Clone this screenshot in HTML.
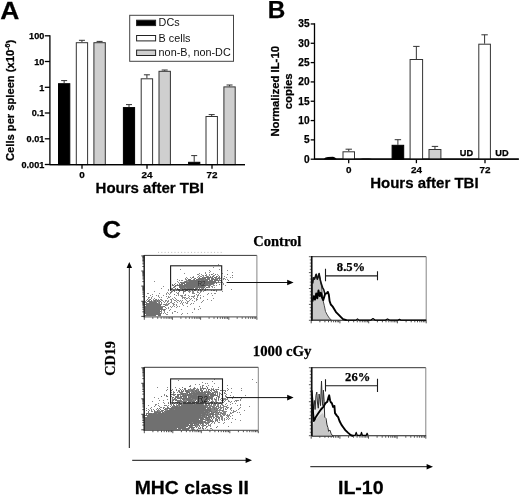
<!DOCTYPE html>
<html><head><meta charset="utf-8"><title>Figure</title>
<style>
html,body{margin:0;padding:0;background:#fff;}
body{width:520px;height:497px;overflow:hidden;font-family:"Liberation Sans", sans-serif;}
svg{display:block;will-change:transform;filter:grayscale(1) blur(0.35px);}
.s{font-family:"Liberation Sans", sans-serif;}
.r{font-family:"Liberation Serif", serif;}
</style></head><body>
<svg width="520" height="497" viewBox="0 0 520 497">
<rect width="520" height="497" fill="#fff"/>
<text class="s" transform="translate(0.3,18.8) scale(1.09,1)" font-size="24.3" font-weight="bold" text-anchor="start" fill="#000" stroke="#000" stroke-width="0.25">A</text>
<path d="M49.9 35.2V164.6H245" stroke="#000" stroke-width="1.3" fill="none"/>
<path d="M44.8 35.8H49.9" stroke="#000" stroke-width="1.3"/>
<text class="s" transform="translate(44.3,39.0) scale(1.0,1)" font-size="9.1" font-weight="bold" text-anchor="end" fill="#000" stroke="#000" stroke-width="0.25">100</text>
<path d="M44.8 61.5H49.9" stroke="#000" stroke-width="1.3"/>
<text class="s" transform="translate(44.3,64.7) scale(1.0,1)" font-size="9.1" font-weight="bold" text-anchor="end" fill="#000" stroke="#000" stroke-width="0.25">10</text>
<path d="M44.8 87.3H49.9" stroke="#000" stroke-width="1.3"/>
<text class="s" transform="translate(44.3,90.5) scale(1.0,1)" font-size="9.1" font-weight="bold" text-anchor="end" fill="#000" stroke="#000" stroke-width="0.25">1</text>
<path d="M44.8 113.0H49.9" stroke="#000" stroke-width="1.3"/>
<text class="s" transform="translate(44.3,116.2) scale(1.0,1)" font-size="9.1" font-weight="bold" text-anchor="end" fill="#000" stroke="#000" stroke-width="0.25">0.1</text>
<path d="M44.8 138.8H49.9" stroke="#000" stroke-width="1.3"/>
<text class="s" transform="translate(44.3,142.0) scale(1.0,1)" font-size="9.1" font-weight="bold" text-anchor="end" fill="#000" stroke="#000" stroke-width="0.25">0.01</text>
<path d="M44.8 164.5H49.9" stroke="#000" stroke-width="1.3"/>
<text class="s" transform="translate(44.3,167.7) scale(1.0,1)" font-size="9.1" font-weight="bold" text-anchor="end" fill="#000" stroke="#000" stroke-width="0.25">0.001</text>
<path d="M82 164.6V168.7" stroke="#000" stroke-width="1.3"/>
<text class="s" transform="translate(82,177.9) scale(1.0,1)" font-size="9.9" font-weight="bold" text-anchor="middle" fill="#000" stroke="#000" stroke-width="0.25">0</text>
<path d="M147 164.6V168.7" stroke="#000" stroke-width="1.3"/>
<text class="s" transform="translate(147,177.9) scale(1.0,1)" font-size="9.9" font-weight="bold" text-anchor="middle" fill="#000" stroke="#000" stroke-width="0.25">24</text>
<path d="M212 164.6V168.7" stroke="#000" stroke-width="1.3"/>
<text class="s" transform="translate(212,177.9) scale(1.0,1)" font-size="9.9" font-weight="bold" text-anchor="middle" fill="#000" stroke="#000" stroke-width="0.25">72</text>
<text class="s" transform="translate(149.8,192.6) scale(1.05,1)" font-size="14.3" font-weight="bold" text-anchor="middle" fill="#000" stroke="#000" stroke-width="0.25">Hours after TBI</text>
<g transform="translate(13.6,100.4) rotate(-90) scale(1.095,1)">
<text class="s" x="0" y="0" font-size="10.2" font-weight="bold" text-anchor="middle" stroke="#000" stroke-width="0.25">Cells per spleen (x10<tspan font-size="6.5" dy="-4">-6</tspan><tspan dy="4">)</tspan></text>
</g>
<path d="M64.15 83.20V80.60M61.15 80.60H67.15" stroke="#333" stroke-width="1" fill="none"/>
<rect x="58.50" y="83.70" width="11.30" height="80.90" fill="#000" stroke="#000" stroke-width="1"/>
<path d="M81.95 42.20V40.30M78.95 40.30H84.95" stroke="#333" stroke-width="1" fill="none"/>
<rect x="76.30" y="42.70" width="11.30" height="121.90" fill="#fff" stroke="#333" stroke-width="1"/>
<path d="M99.60 42.20V41.40M96.60 41.40H102.60" stroke="#333" stroke-width="1" fill="none"/>
<rect x="93.90" y="42.70" width="11.40" height="121.90" fill="#cfcfcf" stroke="#333" stroke-width="1"/>
<path d="M129.00 107.10V104.60M126.00 104.60H132.00" stroke="#333" stroke-width="1" fill="none"/>
<rect x="123.40" y="107.60" width="11.20" height="57.00" fill="#000" stroke="#000" stroke-width="1"/>
<path d="M146.90 78.30V74.80M143.90 74.80H149.90" stroke="#333" stroke-width="1" fill="none"/>
<rect x="141.20" y="78.80" width="11.40" height="85.80" fill="#fff" stroke="#333" stroke-width="1"/>
<path d="M164.70 70.80V70.00M161.70 70.00H167.70" stroke="#333" stroke-width="1" fill="none"/>
<rect x="159.00" y="71.30" width="11.40" height="93.30" fill="#cfcfcf" stroke="#333" stroke-width="1"/>
<path d="M194.20 161.80V155.60M191.20 155.60H197.20" stroke="#333" stroke-width="1" fill="none"/>
<rect x="188.60" y="162.30" width="11.20" height="2.30" fill="#000" stroke="#000" stroke-width="1"/>
<path d="M211.70 116.00V114.60M208.70 114.60H214.70" stroke="#333" stroke-width="1" fill="none"/>
<rect x="206.00" y="116.50" width="11.40" height="48.10" fill="#fff" stroke="#333" stroke-width="1"/>
<path d="M229.55 86.40V85.00M226.55 85.00H232.55" stroke="#333" stroke-width="1" fill="none"/>
<rect x="223.90" y="86.90" width="11.30" height="77.70" fill="#cfcfcf" stroke="#333" stroke-width="1"/>
<path d="M49.9 164.6H245" stroke="#000" stroke-width="1.4" fill="none"/>
<rect x="129.7" y="15.3" width="103.8" height="46" fill="#fff" stroke="#444" stroke-width="1"/>
<rect x="136.6" y="20.2" width="19" height="5.4" fill="#000" stroke="#222" stroke-width="1"/>
<rect x="136.6" y="35.5" width="19" height="5.4" fill="#fff" stroke="#222" stroke-width="1"/>
<rect x="136.6" y="50.1" width="19" height="5.4" fill="#cfcfcf" stroke="#222" stroke-width="1"/>
<text class="s" transform="translate(158.6,26.0) scale(1.04,1)" font-size="10.4" font-weight="normal" text-anchor="start" fill="#111" >DCs</text>
<text class="s" transform="translate(158.6,41.6) scale(1.04,1)" font-size="10.4" font-weight="normal" text-anchor="start" fill="#111" >B cells</text>
<text class="s" transform="translate(158.6,56.2) scale(1.04,1)" font-size="10.4" font-weight="normal" text-anchor="start" fill="#111" >non-B, non-DC</text>
<text class="s" transform="translate(267.8,18.3) scale(1.0,1)" font-size="24.3" font-weight="bold" text-anchor="start" fill="#000" stroke="#000" stroke-width="0.25">B</text>
<path d="M314.5 23.2V159.2H518.8" stroke="#000" stroke-width="1.3" fill="none"/>
<path d="M310.7 159.20H314.5" stroke="#000" stroke-width="1.3"/>
<text class="s" transform="translate(309.5,162.6) scale(1.0,1)" font-size="10.1" font-weight="bold" text-anchor="end" fill="#000" stroke="#000" stroke-width="0.25">0</text>
<path d="M310.7 139.88H314.5" stroke="#000" stroke-width="1.3"/>
<text class="s" transform="translate(309.5,143.28) scale(1.0,1)" font-size="10.1" font-weight="bold" text-anchor="end" fill="#000" stroke="#000" stroke-width="0.25">5</text>
<path d="M310.7 120.56H314.5" stroke="#000" stroke-width="1.3"/>
<text class="s" transform="translate(309.5,123.96) scale(1.0,1)" font-size="10.1" font-weight="bold" text-anchor="end" fill="#000" stroke="#000" stroke-width="0.25">10</text>
<path d="M310.7 101.24H314.5" stroke="#000" stroke-width="1.3"/>
<text class="s" transform="translate(309.5,104.63999999999999) scale(1.0,1)" font-size="10.1" font-weight="bold" text-anchor="end" fill="#000" stroke="#000" stroke-width="0.25">15</text>
<path d="M310.7 81.92H314.5" stroke="#000" stroke-width="1.3"/>
<text class="s" transform="translate(309.5,85.32) scale(1.0,1)" font-size="10.1" font-weight="bold" text-anchor="end" fill="#000" stroke="#000" stroke-width="0.25">20</text>
<path d="M310.7 62.60H314.5" stroke="#000" stroke-width="1.3"/>
<text class="s" transform="translate(309.5,66.0) scale(1.0,1)" font-size="10.1" font-weight="bold" text-anchor="end" fill="#000" stroke="#000" stroke-width="0.25">25</text>
<path d="M310.7 43.28H314.5" stroke="#000" stroke-width="1.3"/>
<text class="s" transform="translate(309.5,46.679999999999986) scale(1.0,1)" font-size="10.1" font-weight="bold" text-anchor="end" fill="#000" stroke="#000" stroke-width="0.25">30</text>
<path d="M310.7 23.96H314.5" stroke="#000" stroke-width="1.3"/>
<text class="s" transform="translate(309.5,27.359999999999978) scale(1.0,1)" font-size="10.1" font-weight="bold" text-anchor="end" fill="#000" stroke="#000" stroke-width="0.25">35</text>
<path d="M348.7 159.2V163.2" stroke="#000" stroke-width="1.3"/>
<text class="s" transform="translate(348.7,173.0) scale(1.0,1)" font-size="9.9" font-weight="bold" text-anchor="middle" fill="#000" stroke="#000" stroke-width="0.25">0</text>
<path d="M416.4 159.2V163.2" stroke="#000" stroke-width="1.3"/>
<text class="s" transform="translate(416.4,173.0) scale(1.0,1)" font-size="9.9" font-weight="bold" text-anchor="middle" fill="#000" stroke="#000" stroke-width="0.25">24</text>
<path d="M485 159.2V163.2" stroke="#000" stroke-width="1.3"/>
<text class="s" transform="translate(485,173.0) scale(1.0,1)" font-size="9.9" font-weight="bold" text-anchor="middle" fill="#000" stroke="#000" stroke-width="0.25">72</text>
<text class="s" transform="translate(424.4,187.8) scale(1.05,1)" font-size="14.3" font-weight="bold" text-anchor="middle" fill="#000" stroke="#000" stroke-width="0.25">Hours after TBI</text>
<g transform="translate(278.9,91.3) rotate(-90) scale(1.09,1)"><text class="s" x="0" y="0" font-size="10.4" font-weight="bold" text-anchor="middle" stroke="#000" stroke-width="0.25">Normalized IL-10</text><text class="s" x="0" y="12.9" font-size="10.4" font-weight="bold" text-anchor="middle" stroke="#000" stroke-width="0.25">copies</text></g>
<path d="M348.75 151.30V149.20M345.55 149.20H351.95" stroke="#333" stroke-width="1" fill="none"/>
<rect x="343.00" y="151.80" width="11.50" height="7.40" fill="#fff" stroke="#333" stroke-width="1"/>
<path d="M397.90 144.80V139.70M394.70 139.70H401.10" stroke="#333" stroke-width="1" fill="none"/>
<rect x="392.10" y="145.30" width="11.60" height="13.90" fill="#000" stroke="#000" stroke-width="1"/>
<path d="M416.35 59.00V46.40M413.15 46.40H419.55" stroke="#333" stroke-width="1" fill="none"/>
<rect x="410.10" y="59.50" width="12.50" height="99.70" fill="#fff" stroke="#333" stroke-width="1"/>
<path d="M434.95 149.00V146.40M431.75 146.40H438.15" stroke="#333" stroke-width="1" fill="none"/>
<rect x="429.00" y="149.50" width="11.90" height="9.70" fill="#cfcfcf" stroke="#333" stroke-width="1"/>
<path d="M484.60 43.70V34.80M481.40 34.80H487.80" stroke="#333" stroke-width="1" fill="none"/>
<rect x="478.80" y="44.20" width="11.60" height="115.00" fill="#fff" stroke="#333" stroke-width="1"/>
<path d="M323.5 159.2 L325.5 157.6 L328 156.9 L333 156.8 L335 157.5 L336.8 159.2Z" fill="#000"/>
<path d="M360 159 L363 158.2 L369 158.2 L372 159Z" fill="#333"/>
<path d="M314.5 159.2H518.8" stroke="#000" stroke-width="1.25" fill="none"/>
<text class="s" transform="translate(466.4,156.4) scale(1.0,1)" font-size="9.2" font-weight="bold" text-anchor="middle" fill="#000" stroke="#000" stroke-width="0.25">UD</text>
<text class="s" transform="translate(501.9,156.4) scale(1.0,1)" font-size="9.2" font-weight="bold" text-anchor="middle" fill="#000" stroke="#000" stroke-width="0.25">UD</text>
<text class="s" transform="translate(102.2,238) scale(1.07,1)" font-size="24.3" font-weight="bold" text-anchor="start" fill="#000" stroke="#000" stroke-width="0.25">C</text>
<text class="r" transform="translate(277.3,245.8) scale(1.0,1)" font-size="14.5" font-weight="bold" text-anchor="middle" fill="#000" stroke="#000" stroke-width="0.25">Control</text>
<text class="r" transform="translate(282.1,355.7) scale(1.02,1)" font-size="14.5" font-weight="bold" text-anchor="middle" fill="#000" stroke="#000" stroke-width="0.25">1000 cGy</text>
<g transform="translate(115.1,358.5) rotate(-90)"><text class="r" x="0" y="0" font-size="14.2" font-weight="bold" text-anchor="middle" stroke="#000" stroke-width="0.25">CD19</text></g>
<text class="s" transform="translate(191.8,493.6) scale(1.02,1)" font-size="19" font-weight="bold" text-anchor="middle" fill="#000" stroke="#000" stroke-width="0.25">MHC class II</text>
<text class="s" transform="translate(360.8,493.6) scale(1.03,1)" font-size="19" font-weight="bold" text-anchor="middle" fill="#000" stroke="#000" stroke-width="0.25">IL-10</text>
<path d="M129.3 448V267.0" stroke="#111" stroke-width="1"/>
<path d="M129.3 262L126.60000000000001 268.0L132.0 268.0Z" fill="#000"/>
<path d="M132.2 460.3H246.6" stroke="#111" stroke-width="1"/>
<path d="M252 460.3L245.6 457.5L245.6 463.1Z" fill="#000"/>
<path d="M310.3 466.7H427.6" stroke="#111" stroke-width="1"/>
<path d="M433 466.7L426.6 463.9L426.6 469.5Z" fill="#000"/>
<rect x="144.3" y="255.4" width="112.59999999999997" height="61.49999999999997" fill="#fff"/>
<path d="M144.3 255.4H256.9" stroke="#3a3a3a" stroke-width="1"/>
<path d="M256.9 255.4V316.9" stroke="#777" stroke-width="0.9"/>
<path d="M143.9 316.9H256.9" stroke="#444" stroke-width="1"/>
<path d="M144.20000000000002 255.0V317.29999999999995" stroke="#222" stroke-width="1.5"/>
<path d="M144.0 316.4h-2.7M144.0 311.8h-1.6M144.0 309.2h-1.6M144.0 307.3h-1.6M144.0 305.8h-1.6M144.0 304.6h-1.6M144.0 303.6h-1.6M144.0 302.7h-1.6M144.0 302.0h-1.6M144.0 301.3h-2.7M144.0 296.7h-1.6M144.0 294.1h-1.6M144.0 292.2h-1.6M144.0 290.7h-1.6M144.0 289.5h-1.6M144.0 288.5h-1.6M144.0 287.6h-1.6M144.0 286.8h-1.6M144.0 286.1h-2.7M144.0 281.6h-1.6M144.0 278.9h-1.6M144.0 277.0h-1.6M144.0 275.6h-1.6M144.0 274.4h-1.6M144.0 273.4h-1.6M144.0 272.5h-1.6M144.0 271.7h-1.6M144.0 271.0h-2.7M144.0 266.5h-1.6M144.0 263.8h-1.6M144.0 261.9h-1.6M144.0 260.5h-1.6M144.0 259.3h-1.6M144.0 258.2h-1.6M144.0 257.4h-1.6M144.0 256.6h-1.6M144.0 255.9h-2.7" stroke="#2a2a2a" stroke-width="0.9" fill="none"/>
<path d="M144.3 317.2v2.6M152.8 317.2v1.6M157.7 317.2v1.6M161.2 317.2v1.6M164.0 317.2v1.6M166.2 317.2v1.6M168.1 317.2v1.6M169.7 317.2v1.6M171.2 317.2v1.6M172.4 317.2v2.6M180.9 317.2v1.6M185.9 317.2v1.6M189.4 317.2v1.6M192.1 317.2v1.6M194.4 317.2v1.6M196.2 317.2v1.6M197.9 317.2v1.6M199.3 317.2v1.6M200.6 317.2v2.6M209.1 317.2v1.6M214.0 317.2v1.6M217.5 317.2v1.6M220.3 317.2v1.6M222.5 317.2v1.6M224.4 317.2v1.6M226.0 317.2v1.6M227.5 317.2v1.6M228.8 317.2v2.6M237.2 317.2v1.6M242.2 317.2v1.6M245.7 317.2v1.6M248.4 317.2v1.6M250.7 317.2v1.6M252.5 317.2v1.6M254.2 317.2v1.6M255.6 317.2v1.6M256.9 317.2v2.6" stroke="#2a2a2a" stroke-width="0.8" fill="none"/>
<path d="M218 264.5h1M213 267.5h1M180 269.5h1M219 269.5h1M209 270.5h1M221 270.5h1M227 270.5h1M210 271.5h1M205 272.5h1M209 272.5h1M232 272.5h1M184 273.5h1M199 273.5h1M205 273.5h1M213 273.5h1M222 273.5h1M197 274.5h2M201 274.5h1M206 274.5h1M209 274.5h1M211 274.5h2M217 274.5h1M227 274.5h1M199 275.5h1M202 275.5h2M206 275.5h1M209 275.5h1M213 275.5h2M218 275.5h1M193 276.5h1M198 276.5h1M200 276.5h2M203 276.5h1M206 276.5h1M208 276.5h1M210 276.5h1M216 276.5h2M224 276.5h1M186 277.5h1M190 277.5h1M192 277.5h1M197 277.5h1M203 277.5h4M208 277.5h1M211 277.5h2M218 277.5h2M226 277.5h1M230 277.5h1M232 277.5h1M185 278.5h1M187 278.5h1M191 278.5h1M194 278.5h1M200 278.5h4M208 278.5h2M211 278.5h2M216 278.5h1M218 278.5h3M223 278.5h2M177 279.5h1M185 279.5h2M193 279.5h2M196 279.5h2M200 279.5h5M209 279.5h1M211 279.5h6M219 279.5h1M223 279.5h1M225 279.5h1M227 279.5h1M179 280.5h1M181 280.5h2M186 280.5h2M192 280.5h3M196 280.5h6M205 280.5h3M209 280.5h2M212 280.5h1M214 280.5h1M216 280.5h2M219 280.5h3M154 281.5h1M177 281.5h1M184 281.5h2M187 281.5h4M192 281.5h13M206 281.5h1M208 281.5h3M212 281.5h2M215 281.5h1M178 282.5h1M181 282.5h2M184 282.5h3M188 282.5h3M192 282.5h3M197 282.5h4M202 282.5h6M209 282.5h1M211 282.5h2M217 282.5h1M219 282.5h4M175 283.5h1M179 283.5h1M181 283.5h2M186 283.5h1M190 283.5h1M193 283.5h1M195 283.5h3M199 283.5h3M203 283.5h2M207 283.5h2M210 283.5h1M212 283.5h1M214 283.5h1M223 283.5h1M177 284.5h1M189 284.5h6M196 284.5h1M198 284.5h5M206 284.5h4M212 284.5h2M221 284.5h1M223 284.5h1M176 285.5h2M179 285.5h3M185 285.5h2M189 285.5h1M192 285.5h4M197 285.5h6M204 285.5h1M206 285.5h3M210 285.5h1M213 285.5h2M216 285.5h1M225 285.5h1M163 286.5h1M179 286.5h1M182 286.5h1M184 286.5h2M188 286.5h1M193 286.5h2M198 286.5h2M204 286.5h2M208 286.5h1M211 286.5h2M174 287.5h1M182 287.5h1M185 287.5h2M188 287.5h1M190 287.5h2M193 287.5h4M198 287.5h2M203 287.5h2M208 287.5h1M212 287.5h1M214 287.5h1M161 288.5h1M171 288.5h1M182 288.5h5M189 288.5h5M195 288.5h1M199 288.5h1M201 288.5h2M205 288.5h1M168 289.5h1M171 289.5h1M179 289.5h1M183 289.5h2M186 289.5h2M192 289.5h2M200 289.5h1M202 289.5h1M205 289.5h1M207 289.5h1M231 289.5h1M168 290.5h1M173 290.5h2M176 290.5h1M178 290.5h1M180 290.5h2M183 290.5h1M185 290.5h1M189 290.5h1M192 290.5h1M195 290.5h1M200 290.5h2M204 290.5h2M211 290.5h1M213 290.5h2M216 290.5h1M154 291.5h1M172 291.5h1M183 291.5h1M185 291.5h1M188 291.5h3M192 291.5h2M197 291.5h1M200 291.5h2M203 291.5h1M216 291.5h1M222 291.5h1M167 292.5h1M171 292.5h1M176 292.5h1M178 292.5h1M183 292.5h1M189 292.5h1M192 292.5h2M197 292.5h2M200 292.5h1M147 293.5h2M159 293.5h1M166 293.5h1M168 293.5h1M170 293.5h1M177 293.5h2M183 293.5h1M192 293.5h3M199 293.5h1M208 293.5h1M211 293.5h1M214 293.5h2M152 294.5h1M166 294.5h1M169 294.5h1M174 294.5h1M178 294.5h1M185 294.5h1M196 294.5h1M198 294.5h1M207 294.5h1M150 295.5h1M156 295.5h1M158 295.5h1M163 295.5h1M176 295.5h1M178 295.5h1M180 295.5h3M184 295.5h2M188 295.5h1M194 295.5h1M197 295.5h2M200 295.5h1M212 295.5h1M146 296.5h1M152 296.5h1M158 296.5h1M166 296.5h1M168 296.5h1M170 296.5h1M181 296.5h2M189 296.5h1M191 296.5h4M197 296.5h1M203 296.5h1M148 297.5h2M151 297.5h1M159 297.5h1M161 297.5h1M168 297.5h2M174 297.5h1M182 297.5h4M188 297.5h1M193 297.5h1M197 297.5h1M200 297.5h1M148 298.5h1M151 298.5h1M154 298.5h1M167 298.5h1M172 298.5h1M175 298.5h1M182 298.5h1M184 298.5h1M186 298.5h2M189 298.5h1M191 298.5h1M194 298.5h1M196 298.5h1M200 298.5h1M213 298.5h1M149 299.5h1M153 299.5h1M155 299.5h1M158 299.5h1M160 299.5h2M170 299.5h2M173 299.5h1M176 299.5h1M185 299.5h1M190 299.5h1M196 299.5h2M207 299.5h1M146 300.5h1M149 300.5h1M153 300.5h2M156 300.5h1M158 300.5h1M161 300.5h2M165 300.5h2M168 300.5h1M171 300.5h1M174 300.5h2M177 300.5h2M180 300.5h1M182 300.5h1M186 300.5h1M189 300.5h1M192 300.5h1M196 300.5h1M203 300.5h1M211 300.5h1M145 301.5h1M150 301.5h1M152 301.5h2M155 301.5h2M158 301.5h2M163 301.5h1M165 301.5h1M167 301.5h2M171 301.5h1M176 301.5h1M179 301.5h1M181 301.5h1M187 301.5h2M194 301.5h1M202 301.5h1M145 302.5h1M151 302.5h1M158 302.5h1M164 302.5h1M167 302.5h1M170 302.5h2M174 302.5h1M177 302.5h1M181 302.5h1M183 302.5h1M185 302.5h1M187 302.5h1M201 302.5h1M147 303.5h2M151 303.5h2M158 303.5h2M161 303.5h1M166 303.5h1M168 303.5h2M172 303.5h2M180 303.5h1M182 303.5h1M186 303.5h2M191 303.5h1M193 303.5h1M145 304.5h1M147 304.5h3M152 304.5h6M159 304.5h1M161 304.5h1M163 304.5h1M165 304.5h4M173 304.5h2M176 304.5h1M182 304.5h1M190 304.5h1M147 305.5h1M150 305.5h2M154 305.5h6M166 305.5h2M173 305.5h1M176 305.5h1M183 305.5h1M145 306.5h4M150 306.5h7M159 306.5h1M161 306.5h2M164 306.5h1M170 306.5h1M172 306.5h1M174 306.5h1M177 306.5h1M179 306.5h1M187 306.5h1M199 306.5h1M146 307.5h1M148 307.5h1M152 307.5h6M159 307.5h1M162 307.5h1M165 307.5h1M168 307.5h1M171 307.5h1M176 307.5h1M146 308.5h5M152 308.5h1M155 308.5h3M159 308.5h4M166 308.5h1M168 308.5h1M194 308.5h1M200 308.5h1M148 309.5h1M154 309.5h5M160 309.5h4M165 309.5h1M170 309.5h1M181 309.5h1M194 309.5h1M198 309.5h1M145 310.5h1M148 310.5h1M153 310.5h3M158 310.5h1M161 310.5h1M163 310.5h1M169 310.5h1M147 311.5h4M152 311.5h5M158 311.5h1M161 311.5h1M164 311.5h1M174 311.5h2M148 312.5h2M151 312.5h2M156 312.5h4M161 312.5h1M164 312.5h1M167 312.5h1M172 312.5h1M177 312.5h1M192 312.5h1M145 313.5h1M147 313.5h2M150 313.5h1M153 313.5h3M158 313.5h4M163 313.5h1M165 313.5h1M172 313.5h1M182 313.5h1M187 313.5h1M149 314.5h2M153 314.5h2M156 314.5h1M166 314.5h2M181 314.5h1M149 315.5h1M153 315.5h1M160 315.5h1" stroke="#8a8a8a" stroke-width="1" fill="none" shape-rendering="crispEdges"/>
<path d="M211 274.5h1M215 274.5h1M227 274.5h1M205 275.5h1M232 275.5h1M207 276.5h1M210 276.5h1M212 276.5h2M216 276.5h1M219 276.5h1M192 277.5h2M199 277.5h1M202 277.5h1M204 277.5h7M212 277.5h1M214 277.5h3M219 277.5h1M221 277.5h1M195 278.5h1M198 278.5h8M207 278.5h3M211 278.5h3M215 278.5h1M217 278.5h3M188 279.5h3M194 279.5h1M196 279.5h8M205 279.5h5M211 279.5h7M219 279.5h1M188 280.5h12M201 280.5h7M209 280.5h4M214 280.5h5M220 280.5h1M228 280.5h1M185 281.5h2M189 281.5h27M218 281.5h1M221 281.5h1M180 282.5h2M183 282.5h34M218 282.5h1M221 282.5h1M181 283.5h4M186 283.5h28M216 283.5h1M172 284.5h1M174 284.5h1M177 284.5h1M179 284.5h4M184 284.5h24M209 284.5h3M219 284.5h1M172 285.5h2M175 285.5h1M177 285.5h33M174 286.5h2M179 286.5h25M209 286.5h1M173 287.5h1M179 287.5h6M186 287.5h9M196 287.5h9M206 287.5h2M209 287.5h1M170 288.5h1M172 288.5h1M175 288.5h1M177 288.5h1M180 288.5h3M184 288.5h2M187 288.5h7M195 288.5h3M199 288.5h1M203 288.5h1M177 289.5h3M182 289.5h1M184 289.5h8M193 289.5h4M198 289.5h1M170 290.5h1M173 290.5h1M178 290.5h2M182 290.5h1M185 290.5h3M194 290.5h1M198 290.5h1M171 291.5h1M174 291.5h1M179 291.5h1M183 291.5h2M170 292.5h1M183 292.5h1M174 294.5h1M147 299.5h1M150 299.5h1M156 299.5h1M148 300.5h1M151 300.5h1M154 300.5h2M157 300.5h1M159 300.5h1M147 301.5h5M154 301.5h2M157 301.5h1M160 301.5h1M146 302.5h1M149 302.5h8M159 302.5h1M161 302.5h1M146 303.5h12M159 303.5h1M145 304.5h16M164 304.5h1M146 305.5h15M165 305.5h1M145 306.5h16M163 306.5h2M145 307.5h18M165 307.5h1M145 308.5h17M145 309.5h18M164 309.5h1M145 310.5h15M161 310.5h1M164 310.5h1M145 311.5h16M145 312.5h15M145 313.5h16M146 314.5h15M145 315.5h11M158 315.5h3" stroke="#707070" stroke-width="1" fill="none" shape-rendering="crispEdges"/>
<rect x="170.6" y="265.8" width="51.1" height="24.1" fill="none" stroke="#1c1c1c" stroke-width="1.1"/>
<text class="s" transform="translate(201.5,286.3) scale(1.0,1)" font-size="6.4" font-weight="normal" text-anchor="middle" fill="#333" >R2</text>
<path d="M158 252.4h66" stroke="#b5b5b5" stroke-width="0.9" stroke-dasharray="1 2.3"/>
<rect x="144.3" y="367.3" width="114.0" height="63.0" fill="#fff"/>
<path d="M144.3 367.3H258.3" stroke="#3a3a3a" stroke-width="1"/>
<path d="M258.3 367.3V430.3" stroke="#777" stroke-width="0.9"/>
<path d="M143.9 430.3H258.3" stroke="#444" stroke-width="1"/>
<path d="M144.20000000000002 366.90000000000003V430.7" stroke="#222" stroke-width="1.5"/>
<path d="M144.0 429.8h-2.7M144.0 425.1h-1.6M144.0 422.4h-1.6M144.0 420.5h-1.6M144.0 419.0h-1.6M144.0 417.7h-1.6M144.0 416.7h-1.6M144.0 415.8h-1.6M144.0 415.0h-1.6M144.0 414.3h-2.7M144.0 409.6h-1.6M144.0 406.9h-1.6M144.0 405.0h-1.6M144.0 403.5h-1.6M144.0 402.2h-1.6M144.0 401.2h-1.6M144.0 400.3h-1.6M144.0 399.5h-1.6M144.0 398.8h-2.7M144.0 394.1h-1.6M144.0 391.4h-1.6M144.0 389.5h-1.6M144.0 388.0h-1.6M144.0 386.7h-1.6M144.0 385.7h-1.6M144.0 384.8h-1.6M144.0 384.0h-1.6M144.0 383.3h-2.7M144.0 378.6h-1.6M144.0 375.9h-1.6M144.0 374.0h-1.6M144.0 372.5h-1.6M144.0 371.2h-1.6M144.0 370.2h-1.6M144.0 369.3h-1.6M144.0 368.5h-1.6M144.0 367.8h-2.7" stroke="#2a2a2a" stroke-width="0.9" fill="none"/>
<path d="M144.3 430.6v2.6M152.9 430.6v1.6M157.9 430.6v1.6M161.5 430.6v1.6M164.2 430.6v1.6M166.5 430.6v1.6M168.4 430.6v1.6M170.0 430.6v1.6M171.5 430.6v1.6M172.8 430.6v2.6M181.4 430.6v1.6M186.4 430.6v1.6M190.0 430.6v1.6M192.7 430.6v1.6M195.0 430.6v1.6M196.9 430.6v1.6M198.5 430.6v1.6M200.0 430.6v1.6M201.3 430.6v2.6M209.9 430.6v1.6M214.9 430.6v1.6M218.5 430.6v1.6M221.2 430.6v1.6M223.5 430.6v1.6M225.4 430.6v1.6M227.0 430.6v1.6M228.5 430.6v1.6M229.8 430.6v2.6M238.4 430.6v1.6M243.4 430.6v1.6M247.0 430.6v1.6M249.7 430.6v1.6M252.0 430.6v1.6M253.9 430.6v1.6M255.5 430.6v1.6M257.0 430.6v1.6M258.3 430.6v2.6" stroke="#2a2a2a" stroke-width="0.8" fill="none"/>
<path d="M214 379.5h1M252 379.5h1M178 380.5h1M212 381.5h1M202 382.5h1M256 382.5h1M205 383.5h1M207 383.5h1M214 383.5h1M195 384.5h1M199 384.5h1M190 385.5h1M202 385.5h2M208 385.5h1M222 385.5h1M227 385.5h1M190 386.5h1M200 386.5h1M202 386.5h1M212 386.5h1M157 387.5h1M167 387.5h1M175 387.5h1M194 387.5h1M200 387.5h1M207 387.5h1M179 388.5h1M184 388.5h1M190 388.5h1M193 388.5h3M197 388.5h1M201 388.5h2M204 388.5h2M211 388.5h1M213 388.5h1M227 388.5h1M231 388.5h1M241 388.5h1M167 389.5h1M170 389.5h1M172 389.5h1M176 389.5h1M180 389.5h1M182 389.5h1M184 389.5h1M189 389.5h4M194 389.5h1M196 389.5h3M201 389.5h1M203 389.5h1M206 389.5h1M209 389.5h1M211 389.5h2M215 389.5h3M228 389.5h1M166 390.5h1M178 390.5h2M185 390.5h2M188 390.5h11M206 390.5h1M208 390.5h1M210 390.5h2M213 390.5h1M216 390.5h1M221 390.5h1M223 390.5h3M227 390.5h1M241 390.5h1M173 391.5h1M178 391.5h2M181 391.5h1M183 391.5h1M188 391.5h4M193 391.5h2M197 391.5h2M201 391.5h2M204 391.5h4M209 391.5h1M211 391.5h1M214 391.5h4M171 392.5h1M173 392.5h1M177 392.5h1M179 392.5h4M192 392.5h2M195 392.5h2M198 392.5h1M200 392.5h1M203 392.5h2M207 392.5h1M213 392.5h1M215 392.5h2M219 392.5h1M224 392.5h1M231 392.5h1M173 393.5h1M180 393.5h2M183 393.5h5M190 393.5h5M196 393.5h6M203 393.5h3M208 393.5h5M219 393.5h2M222 393.5h1M224 393.5h2M164 394.5h1M174 394.5h1M178 394.5h3M183 394.5h4M188 394.5h10M200 394.5h3M207 394.5h3M212 394.5h2M226 394.5h1M164 395.5h1M173 395.5h2M178 395.5h1M180 395.5h1M182 395.5h2M187 395.5h1M189 395.5h3M193 395.5h6M200 395.5h5M207 395.5h2M210 395.5h5M216 395.5h2M222 395.5h1M225 395.5h1M230 395.5h1M245 395.5h1M166 396.5h1M171 396.5h1M175 396.5h3M182 396.5h2M185 396.5h2M188 396.5h2M191 396.5h3M195 396.5h3M199 396.5h1M202 396.5h1M204 396.5h2M207 396.5h1M209 396.5h2M217 396.5h1M219 396.5h1M225 396.5h2M233 396.5h1M154 397.5h1M177 397.5h4M183 397.5h2M188 397.5h2M191 397.5h1M194 397.5h5M200 397.5h1M205 397.5h7M219 397.5h1M226 397.5h1M235 397.5h1M237 397.5h1M239 397.5h1M158 398.5h1M170 398.5h1M172 398.5h1M174 398.5h2M178 398.5h1M180 398.5h2M183 398.5h4M190 398.5h8M199 398.5h1M204 398.5h2M207 398.5h1M209 398.5h3M214 398.5h1M216 398.5h1M221 398.5h5M227 398.5h1M232 398.5h1M241 398.5h1M167 399.5h1M172 399.5h1M175 399.5h1M180 399.5h1M184 399.5h2M187 399.5h2M190 399.5h10M201 399.5h2M204 399.5h1M206 399.5h3M211 399.5h2M214 399.5h1M216 399.5h1M218 399.5h1M220 399.5h1M223 399.5h5M240 399.5h1M159 400.5h1M163 400.5h1M176 400.5h1M181 400.5h1M183 400.5h13M198 400.5h3M204 400.5h4M212 400.5h1M215 400.5h2M218 400.5h1M221 400.5h1M225 400.5h1M228 400.5h1M235 400.5h4M240 400.5h1M152 401.5h1M177 401.5h1M180 401.5h1M182 401.5h2M185 401.5h2M190 401.5h2M193 401.5h2M196 401.5h1M199 401.5h3M203 401.5h4M212 401.5h2M215 401.5h2M224 401.5h1M228 401.5h2M231 401.5h1M234 401.5h1M236 401.5h1M163 402.5h1M168 402.5h1M172 402.5h2M177 402.5h3M184 402.5h1M187 402.5h1M189 402.5h1M192 402.5h1M194 402.5h2M197 402.5h2M204 402.5h2M212 402.5h1M216 402.5h2M220 402.5h1M223 402.5h1M230 402.5h1M158 403.5h1M164 403.5h1M174 403.5h1M185 403.5h1M189 403.5h2M193 403.5h2M198 403.5h1M200 403.5h4M208 403.5h2M211 403.5h2M214 403.5h3M218 403.5h4M226 403.5h1M232 403.5h1M235 403.5h1M155 404.5h2M170 404.5h2M176 404.5h1M180 404.5h1M182 404.5h1M184 404.5h1M188 404.5h1M192 404.5h3M197 404.5h3M201 404.5h1M203 404.5h1M205 404.5h1M208 404.5h2M211 404.5h1M213 404.5h3M217 404.5h2M221 404.5h2M225 404.5h1M230 404.5h1M240 404.5h1M148 405.5h1M155 405.5h1M158 405.5h1M165 405.5h2M168 405.5h1M171 405.5h1M176 405.5h3M182 405.5h2M185 405.5h1M190 405.5h1M192 405.5h2M195 405.5h4M200 405.5h2M203 405.5h9M213 405.5h3M217 405.5h2M220 405.5h1M222 405.5h2M227 405.5h1M237 405.5h1M240 405.5h1M154 406.5h1M159 406.5h1M167 406.5h1M173 406.5h2M176 406.5h1M178 406.5h3M192 406.5h1M194 406.5h1M196 406.5h4M201 406.5h3M205 406.5h2M210 406.5h5M217 406.5h2M223 406.5h4M249 406.5h1M151 407.5h1M160 407.5h2M163 407.5h2M168 407.5h1M174 407.5h1M178 407.5h3M182 407.5h1M184 407.5h3M191 407.5h1M198 407.5h3M202 407.5h9M212 407.5h1M214 407.5h3M218 407.5h6M226 407.5h3M231 407.5h1M240 407.5h1M146 408.5h1M150 408.5h1M159 408.5h1M166 408.5h2M169 408.5h2M172 408.5h2M175 408.5h1M177 408.5h3M182 408.5h2M185 408.5h3M194 408.5h3M199 408.5h2M202 408.5h4M207 408.5h12M220 408.5h2M223 408.5h1M225 408.5h1M227 408.5h1M230 408.5h2M239 408.5h1M148 409.5h1M151 409.5h1M153 409.5h1M156 409.5h1M158 409.5h1M165 409.5h3M169 409.5h2M173 409.5h2M176 409.5h1M178 409.5h1M180 409.5h4M188 409.5h1M190 409.5h3M195 409.5h2M201 409.5h1M203 409.5h5M211 409.5h7M219 409.5h2M223 409.5h1M225 409.5h2M230 409.5h1M238 409.5h1M149 410.5h1M151 410.5h1M158 410.5h2M163 410.5h1M165 410.5h5M173 410.5h5M181 410.5h1M183 410.5h1M185 410.5h1M189 410.5h1M192 410.5h3M196 410.5h7M204 410.5h20M231 410.5h1M233 410.5h1M236 410.5h1M244 410.5h1M151 411.5h2M155 411.5h2M158 411.5h4M165 411.5h1M168 411.5h1M171 411.5h1M173 411.5h1M175 411.5h2M179 411.5h1M186 411.5h4M191 411.5h3M195 411.5h1M197 411.5h1M199 411.5h7M207 411.5h8M216 411.5h2M219 411.5h1M222 411.5h5M233 411.5h3M156 412.5h1M158 412.5h1M164 412.5h1M168 412.5h1M171 412.5h2M174 412.5h4M180 412.5h1M183 412.5h1M185 412.5h2M190 412.5h2M194 412.5h1M196 412.5h3M200 412.5h1M203 412.5h5M209 412.5h1M211 412.5h11M223 412.5h3M230 412.5h1M232 412.5h2M237 412.5h1M239 412.5h1M148 413.5h1M152 413.5h1M157 413.5h2M161 413.5h13M175 413.5h3M186 413.5h1M188 413.5h1M193 413.5h4M199 413.5h2M203 413.5h11M215 413.5h4M220 413.5h6M230 413.5h2M149 414.5h1M152 414.5h2M155 414.5h1M157 414.5h1M160 414.5h1M162 414.5h2M170 414.5h2M174 414.5h1M177 414.5h1M185 414.5h2M188 414.5h3M192 414.5h1M194 414.5h2M198 414.5h4M203 414.5h6M210 414.5h2M213 414.5h2M216 414.5h5M222 414.5h4M227 414.5h1M229 414.5h1M240 414.5h1M147 415.5h3M153 415.5h1M155 415.5h2M158 415.5h1M160 415.5h4M165 415.5h7M174 415.5h3M179 415.5h2M182 415.5h4M187 415.5h2M190 415.5h1M192 415.5h2M195 415.5h6M202 415.5h9M213 415.5h1M215 415.5h3M220 415.5h2M223 415.5h2M226 415.5h4M232 415.5h1M151 416.5h1M154 416.5h2M157 416.5h2M160 416.5h9M180 416.5h2M187 416.5h1M190 416.5h2M193 416.5h14M208 416.5h6M215 416.5h4M220 416.5h3M227 416.5h2M230 416.5h1M149 417.5h3M154 417.5h2M157 417.5h5M164 417.5h1M166 417.5h2M170 417.5h3M175 417.5h4M180 417.5h2M184 417.5h1M189 417.5h1M191 417.5h1M193 417.5h1M196 417.5h2M199 417.5h8M209 417.5h3M214 417.5h1M216 417.5h3M221 417.5h2M226 417.5h1M228 417.5h1M148 418.5h1M150 418.5h1M152 418.5h1M154 418.5h1M157 418.5h1M159 418.5h2M162 418.5h1M168 418.5h5M176 418.5h1M178 418.5h1M184 418.5h1M189 418.5h1M191 418.5h4M196 418.5h1M198 418.5h4M203 418.5h1M205 418.5h4M211 418.5h1M213 418.5h1M215 418.5h2M219 418.5h1M221 418.5h2M224 418.5h1M227 418.5h1M229 418.5h1M232 418.5h1M154 419.5h1M156 419.5h1M159 419.5h6M167 419.5h2M172 419.5h1M174 419.5h1M176 419.5h2M183 419.5h4M188 419.5h1M192 419.5h5M198 419.5h1M202 419.5h5M208 419.5h1M210 419.5h1M212 419.5h1M215 419.5h3M219 419.5h1M221 419.5h2M224 419.5h1M226 419.5h1M228 419.5h1M235 419.5h1M145 420.5h1M156 420.5h2M162 420.5h2M167 420.5h3M171 420.5h1M179 420.5h1M182 420.5h1M185 420.5h1M187 420.5h1M190 420.5h1M193 420.5h2M196 420.5h1M198 420.5h1M200 420.5h2M205 420.5h2M209 420.5h4M215 420.5h2M219 420.5h1M222 420.5h1M224 420.5h1M240 420.5h1M148 421.5h2M154 421.5h1M156 421.5h1M161 421.5h2M172 421.5h1M178 421.5h1M180 421.5h1M187 421.5h1M192 421.5h1M194 421.5h10M205 421.5h1M207 421.5h6M215 421.5h1M217 421.5h1M147 422.5h1M152 422.5h1M160 422.5h2M165 422.5h1M178 422.5h1M183 422.5h2M187 422.5h1M189 422.5h1M192 422.5h2M195 422.5h6M202 422.5h2M205 422.5h4M212 422.5h1M214 422.5h1M218 422.5h2M224 422.5h1M231 422.5h1M145 423.5h1M150 423.5h1M154 423.5h1M162 423.5h1M165 423.5h1M168 423.5h1M171 423.5h1M176 423.5h1M192 423.5h3M197 423.5h4M203 423.5h1M205 423.5h4M211 423.5h1M214 423.5h1M223 423.5h1M151 424.5h2M165 424.5h1M175 424.5h2M182 424.5h1M184 424.5h2M187 424.5h1M191 424.5h1M195 424.5h2M200 424.5h1M202 424.5h2M208 424.5h1M210 424.5h1M158 425.5h1M162 425.5h1M189 425.5h1M195 425.5h5M201 425.5h3M205 425.5h1M208 425.5h3M155 426.5h2M170 426.5h1M179 426.5h1M189 426.5h1M191 426.5h2M196 426.5h2M199 426.5h1M202 426.5h2M206 426.5h2M210 426.5h1M217 426.5h1M228 426.5h1M151 427.5h1M175 427.5h1M178 427.5h1M188 427.5h1M190 427.5h1M198 427.5h1M200 427.5h1M202 427.5h1M206 427.5h1M149 428.5h1M160 428.5h1M188 428.5h1M192 428.5h1M198 428.5h1M200 428.5h1M202 428.5h2M205 428.5h1M210 428.5h2M163 429.5h1M175 429.5h1M191 429.5h1M194 429.5h1M203 429.5h1M207 429.5h1M212 429.5h1" stroke="#868686" stroke-width="1" fill="none" shape-rendering="crispEdges"/>
<path d="M189 386.5h1M206 386.5h1M182 387.5h1M202 387.5h1M207 387.5h1M218 387.5h1M184 388.5h2M194 388.5h1M200 388.5h1M203 388.5h3M207 388.5h1M180 389.5h1M185 389.5h1M188 389.5h1M193 389.5h1M198 389.5h1M200 389.5h1M208 389.5h2M213 389.5h1M218 389.5h1M171 390.5h1M176 390.5h1M181 390.5h1M183 390.5h1M185 390.5h3M191 390.5h2M195 390.5h2M198 390.5h1M200 390.5h3M208 390.5h1M210 390.5h1M213 390.5h2M220 390.5h1M179 391.5h1M181 391.5h2M185 391.5h4M192 391.5h2M195 391.5h2M198 391.5h2M201 391.5h2M204 391.5h1M208 391.5h1M215 391.5h2M225 391.5h1M174 392.5h1M179 392.5h2M186 392.5h4M191 392.5h1M193 392.5h2M196 392.5h15M212 392.5h1M214 392.5h1M217 392.5h1M181 393.5h5M187 393.5h1M189 393.5h14M204 393.5h2M207 393.5h2M211 393.5h3M215 393.5h1M217 393.5h1M171 394.5h3M175 394.5h1M177 394.5h3M181 394.5h3M185 394.5h1M187 394.5h5M193 394.5h16M210 394.5h6M217 394.5h1M219 394.5h1M221 394.5h1M166 395.5h1M177 395.5h2M183 395.5h14M198 395.5h11M210 395.5h8M219 395.5h1M161 396.5h1M167 396.5h1M176 396.5h3M180 396.5h7M188 396.5h1M190 396.5h15M206 396.5h4M211 396.5h3M218 396.5h1M172 397.5h2M175 397.5h3M180 397.5h2M183 397.5h1M185 397.5h2M188 397.5h19M208 397.5h5M216 397.5h1M218 397.5h1M175 398.5h1M177 398.5h3M181 398.5h10M192 398.5h21M218 398.5h1M221 398.5h1M173 399.5h2M176 399.5h1M182 399.5h3M186 399.5h7M195 399.5h1M197 399.5h13M211 399.5h1M215 399.5h1M218 399.5h1M172 400.5h2M175 400.5h6M183 400.5h1M187 400.5h5M193 400.5h1M195 400.5h1M197 400.5h11M209 400.5h1M223 400.5h1M172 401.5h1M177 401.5h6M184 401.5h3M188 401.5h7M196 401.5h11M208 401.5h1M211 401.5h1M175 402.5h2M179 402.5h1M183 402.5h3M188 402.5h3M192 402.5h7M200 402.5h6M210 402.5h3M214 402.5h1M168 403.5h1M170 403.5h1M172 403.5h1M174 403.5h1M177 403.5h1M179 403.5h3M183 403.5h12M196 403.5h7M205 403.5h3M209 403.5h1M212 403.5h1M214 403.5h1M173 404.5h1M178 404.5h4M183 404.5h10M194 404.5h9M205 404.5h2M209 404.5h1M211 404.5h1M215 404.5h1M164 405.5h1M173 405.5h2M177 405.5h1M179 405.5h1M181 405.5h23M205 405.5h2M208 405.5h1M170 406.5h1M172 406.5h1M174 406.5h4M179 406.5h27M207 406.5h1M209 406.5h1M212 406.5h1M216 406.5h1M218 406.5h1M220 406.5h1M167 407.5h1M171 407.5h36M208 407.5h3M213 407.5h1M157 408.5h1M159 408.5h1M163 408.5h1M165 408.5h1M167 408.5h39M207 408.5h2M210 408.5h1M214 408.5h1M216 408.5h1M218 408.5h1M160 409.5h1M164 409.5h2M170 409.5h4M175 409.5h36M214 409.5h1M217 409.5h1M223 409.5h1M146 410.5h1M154 410.5h1M157 410.5h1M161 410.5h3M167 410.5h44M216 410.5h1M222 410.5h1M148 411.5h1M154 411.5h1M157 411.5h1M160 411.5h1M162 411.5h1M164 411.5h40M205 411.5h3M209 411.5h3M215 411.5h1M148 412.5h1M154 412.5h7M162 412.5h2M165 412.5h44M211 412.5h1M213 412.5h2M216 412.5h1M218 412.5h1M146 413.5h2M149 413.5h3M153 413.5h4M158 413.5h48M207 413.5h1M210 413.5h4M218 413.5h1M222 413.5h1M146 414.5h1M148 414.5h53M202 414.5h6M209 414.5h5M215 414.5h1M145 415.5h60M206 415.5h3M210 415.5h1M212 415.5h1M147 416.5h54M202 416.5h3M206 416.5h1M208 416.5h3M212 416.5h1M216 416.5h1M145 417.5h58M204 417.5h6M211 417.5h1M213 417.5h1M219 417.5h1M145 418.5h54M200 418.5h4M206 418.5h2M209 418.5h1M211 418.5h1M218 418.5h1M145 419.5h54M200 419.5h5M207 419.5h3M212 419.5h1M217 419.5h1M145 420.5h58M206 420.5h3M210 420.5h1M215 420.5h1M217 420.5h1M145 421.5h58M204 421.5h1M210 421.5h2M213 421.5h1M145 422.5h47M193 422.5h10M204 422.5h2M208 422.5h2M145 423.5h52M198 423.5h1M200 423.5h3M207 423.5h1M145 424.5h44M190 424.5h3M194 424.5h1M196 424.5h3M202 424.5h1M206 424.5h1M145 425.5h51M204 425.5h2M145 426.5h43M189 426.5h3M195 426.5h1M199 426.5h1M145 427.5h41M189 427.5h6M196 427.5h1M200 427.5h1M202 427.5h1M206 427.5h1M216 427.5h1M145 428.5h32M178 428.5h12M191 428.5h1M193 428.5h1M199 428.5h1M202 428.5h1M145 429.5h36M182 429.5h7M192 429.5h2M197 429.5h1" stroke="#707070" stroke-width="1" fill="none" shape-rendering="crispEdges"/>
<rect x="170.6" y="378.9" width="51.9" height="24.1" fill="none" stroke="#1c1c1c" stroke-width="1.1"/>
<text class="s" transform="translate(202.8,401.7) scale(1.0,1)" font-size="8.3" font-weight="normal" text-anchor="middle" fill="#1a1a1a" >R2</text>
<path d="M226.6 282.5H288.20000000000005" stroke="#111" stroke-width="1"/>
<path d="M293.6 282.5L287.20000000000005 279.7L287.20000000000005 285.3Z" fill="#000"/>
<path d="M226.6 397.6H288.20000000000005" stroke="#111" stroke-width="1"/>
<path d="M293.6 397.6L287.20000000000005 394.8L287.20000000000005 400.40000000000003Z" fill="#000"/>
<rect x="311.2" y="256.7" width="115.0" height="63.60000000000002" fill="#fff"/>
<path d="M311.2 256.7H426.2" stroke="#333" stroke-width="1"/>
<path d="M426.2 256.7V320.3" stroke="#777" stroke-width="0.9"/>
<path d="M311.2 320.3H426.59999999999997" stroke="#1a1a1a" stroke-width="1.1"/>
<path d="M311.2 320.7v2.6M319.9 320.7v1.6M324.9 320.7v1.6M328.5 320.7v1.6M331.3 320.7v1.6M333.6 320.7v1.6M335.5 320.7v1.6M337.2 320.7v1.6M338.6 320.7v1.6M339.9 320.7v2.6M348.6 320.7v1.6M353.7 320.7v1.6M357.3 320.7v1.6M360.0 320.7v1.6M362.3 320.7v1.6M364.2 320.7v1.6M365.9 320.7v1.6M367.4 320.7v1.6M368.7 320.7v2.6M377.4 320.7v1.6M382.4 320.7v1.6M386.0 320.7v1.6M388.8 320.7v1.6M391.1 320.7v1.6M393.0 320.7v1.6M394.7 320.7v1.6M396.1 320.7v1.6M397.4 320.7v2.6M406.1 320.7v1.6M411.2 320.7v1.6M414.8 320.7v1.6M417.5 320.7v1.6M419.8 320.7v1.6M421.7 320.7v1.6M423.4 320.7v1.6M424.9 320.7v1.6M426.2 320.7v2.6" stroke="#222" stroke-width="0.8" fill="none"/>
<path d="M310.8 320.3h-1.9M310.8 317.1h-1.0M310.8 313.9h-1.0M310.8 310.8h-1.0M310.8 307.6h-1.0M310.8 304.4h-1.9M310.8 301.2h-1.0M310.8 298.0h-1.0M310.8 294.9h-1.0M310.8 291.7h-1.0M310.8 288.5h-1.9M310.8 285.3h-1.0M310.8 282.1h-1.0M310.8 279.0h-1.0M310.8 275.8h-1.0M310.8 272.6h-1.9M310.8 269.4h-1.0M310.8 266.2h-1.0M310.8 263.1h-1.0M310.8 259.9h-1.0M310.8 256.7h-1.9" stroke="#333" stroke-width="0.8" fill="none"/>
<path d="M312.4 319.9 L312.4 282.3 L313.3 277.7 L314.4 279.1 L315.2 277.1 L316.2 274.2 L317.3 279.1 L318.3 276.5 L319.1 273.6 L320.3 280.0 L321.4 285.8 L322.2 292.8 L323.2 301.0 L324.3 305.7 L325.5 311.5 L327.3 315.0 L329.6 318.5 L331.3 319.9Z" fill="#c9c9c9" stroke="#3a3a3a" stroke-width="0.9" stroke-linejoin="round"/>
<path d="M312.7 283.5 L313.3 277.7 L314.4 279.1 L315.2 277.1 L316.2 274.2 L317.3 279.1 L318.3 276.5 L319.1 273.6 L320.3 280.0 L321.4 284.1 L322.6 287.6 L323.8 289.9 L324.9 294.0" fill="none" stroke="#111" stroke-width="1.6" stroke-linejoin="round"/>
<path d="M346.0 320.1 L356.0 320.1 L357.5 318.9 L359.0 320.1 L371.0 320.1 L373.0 318.6 L375.0 320.1 L385.5 320.1 L387.5 318.9 L389.5 320.1 L398.0 320.1 L399.5 319.3 L401.0 320.1 L426.0 320.1" fill="none" stroke="#000" stroke-width="1.2" stroke-linejoin="round"/>
<path d="M312.4 301.6 L313.8 296.1 L315.0 299.6 L316.2 293.4 L317.3 298.4 L318.5 290.5 L319.7 296.1 L320.8 292.6 L322.0 297.5 L323.2 300.1 L324.3 296.6 L325.2 293.8 L326.1 293.5 L327.0 293.1 L327.8 291.9 L328.8 294.6 L329.6 301.0 L330.8 304.5 L332.5 306.3 L334.3 309.2 L336.0 312.1 L338.3 314.4 L340.7 316.8 L343.0 319.1 L346.5 320.2" fill="none" stroke="#000" stroke-width="1.9" stroke-linejoin="round"/>
<path d="M311.7 256V320.9" stroke="#111" stroke-width="1.7"/>
<path d="M325.5 275.9H377.5M325.5 268.7V281.3M377.5 271.3V280.3" stroke="#1a1a1a" stroke-width="1.1" fill="none"/>
<text class="r" transform="translate(351,270.9) scale(1.0,1)" font-size="12.6" font-weight="bold" text-anchor="middle" fill="#000" stroke="#000" stroke-width="0.25">8.5%</text>
<rect x="311.2" y="367.7" width="114.60000000000002" height="68.0" fill="#fff"/>
<path d="M311.2 367.7H425.8" stroke="#333" stroke-width="1"/>
<path d="M425.8 367.7V435.7" stroke="#777" stroke-width="0.9"/>
<path d="M311.2 435.7H426.2" stroke="#1a1a1a" stroke-width="1.1"/>
<path d="M311.2 436.09999999999997v2.6M319.8 436.09999999999997v1.6M324.9 436.09999999999997v1.6M328.4 436.09999999999997v1.6M331.2 436.09999999999997v1.6M333.5 436.09999999999997v1.6M335.4 436.09999999999997v1.6M337.1 436.09999999999997v1.6M338.5 436.09999999999997v1.6M339.9 436.09999999999997v2.6M348.5 436.09999999999997v1.6M353.5 436.09999999999997v1.6M357.1 436.09999999999997v1.6M359.9 436.09999999999997v1.6M362.1 436.09999999999997v1.6M364.1 436.09999999999997v1.6M365.7 436.09999999999997v1.6M367.2 436.09999999999997v1.6M368.5 436.09999999999997v2.6M377.1 436.09999999999997v1.6M382.2 436.09999999999997v1.6M385.7 436.09999999999997v1.6M388.5 436.09999999999997v1.6M390.8 436.09999999999997v1.6M392.7 436.09999999999997v1.6M394.4 436.09999999999997v1.6M395.8 436.09999999999997v1.6M397.1 436.09999999999997v2.6M405.8 436.09999999999997v1.6M410.8 436.09999999999997v1.6M414.4 436.09999999999997v1.6M417.2 436.09999999999997v1.6M419.4 436.09999999999997v1.6M421.4 436.09999999999997v1.6M423.0 436.09999999999997v1.6M424.5 436.09999999999997v1.6M425.8 436.09999999999997v2.6" stroke="#222" stroke-width="0.8" fill="none"/>
<path d="M310.8 435.7h-1.9M310.8 432.3h-1.0M310.8 428.9h-1.0M310.8 425.5h-1.0M310.8 422.1h-1.0M310.8 418.7h-1.9M310.8 415.3h-1.0M310.8 411.9h-1.0M310.8 408.5h-1.0M310.8 405.1h-1.0M310.8 401.7h-1.9M310.8 398.3h-1.0M310.8 394.9h-1.0M310.8 391.5h-1.0M310.8 388.1h-1.0M310.8 384.7h-1.9M310.8 381.3h-1.0M310.8 377.9h-1.0M310.8 374.5h-1.0M310.8 371.1h-1.0M310.8 367.7h-1.9" stroke="#333" stroke-width="0.8" fill="none"/>
<path d="M312.1 436.2 L312.4 430.1 L313.4 423.6 L315.7 419.8 L319.6 415.6 L322.8 413.1 L324.1 415.9 L326.0 422.3 L327.9 430.1 L330.5 433.9 L333.1 436.2Z" fill="#c9c9c9" stroke="none"/>
<path d="M312.1 436.2 L312.1 414.6 L313.4 408.2 L314.4 400.5 L315.1 409.5 L316.0 395.3 L316.8 392.1 L317.5 403.0 L318.3 408.2 L319.1 394.0 L319.8 399.2 L320.5 405.6 L321.5 381.1 L322.2 399.2 L322.8 405.6 L323.4 390.2 L324.2 401.7 L324.7 417.2 L326.0 418.5 L327.0 424.9 L327.9 427.5 L328.6 431.3 L329.9 430.1 L331.2 433.9 L333.1 436.2Z" fill="#c9c9c9" fill-opacity="0.4" stroke="#2c2c2c" stroke-width="1.0" stroke-linejoin="round"/>
<path d="M352.0 435.3 L355.2 435.3 L356.2 432.4 L357.2 435.3 L360.6 435.3 L361.5 432.4 L362.4 435.3 L366.2 435.3 L367.1 433.2 L368.0 435.3" fill="none" stroke="#000" stroke-width="1.2" stroke-linejoin="round"/>
<path d="M311.6 390.2 L312.5 401.7 L313.1 413.3 L313.8 421.0 L314.7 419.5 L315.7 417.2 L318.3 413.3 L320.9 409.5 L323.4 406.9 L325.4 403.3 L327.3 401.7 L328.3 397.9 L329.2 395.3 L330.1 400.5 L330.9 402.4 L331.8 403.0 L333.1 406.9 L334.4 405.9 L335.0 413.1 L337.0 415.9 L338.2 417.2 L339.5 421.0 L341.5 424.9 L343.4 427.5 L345.3 430.1 L347.9 432.6 L350.5 434.9 L353.0 436.1" fill="none" stroke="#000" stroke-width="1.9" stroke-linejoin="round"/>
<path d="M311.7 367.2V436.1" stroke="#111" stroke-width="1.7"/>
<path d="M325.5 385.8H377.5M325.5 379.2V391.4M377.5 378.7V392" stroke="#1a1a1a" stroke-width="1.1" fill="none"/>
<text class="r" transform="translate(357.7,381.4) scale(1.0,1)" font-size="12.6" font-weight="bold" text-anchor="middle" fill="#000" stroke="#000" stroke-width="0.25">26%</text>
</svg>
</body></html>
